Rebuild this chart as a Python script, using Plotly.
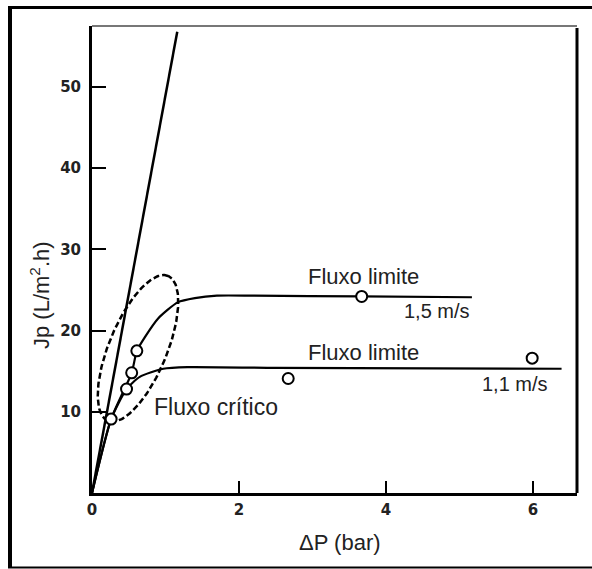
import numpy as np
import plotly.graph_objects as go

# ---- data ----
steep_x = [0.0, 1.16]
steep_y = [0.0, 56.8]

v15_x = [0, 0.26, 0.54, 0.61, 0.72, 0.90, 1.17, 1.40, 1.70, 2.20, 3.67, 5.17]
v15_y = [0, 9.1, 14.8, 17.5, 19.2, 21.5, 23.5, 24.0, 24.3, 24.3, 24.2, 24.1]

v11_x = [0, 0.26, 0.47, 0.65, 0.97, 1.30, 2.50, 6.39]
v11_y = [0, 9.1, 12.8, 14.3, 15.3, 15.5, 15.4, 15.3]

pts_x = [0.26, 0.47, 0.54, 0.61, 2.67, 3.67, 5.99]
pts_y = [9.1, 12.8, 14.8, 17.5, 14.1, 24.2, 16.6]

x_ticks = [0, 2, 4, 6]
y_ticks = [10, 20, 30, 40, 50]

X_RANGE = [0, 6.6]
Y_RANGE = [0, 57.5]

# ellipse ("Fluxo crítico" zone), centre in data units, axes in screen px
ell_cx, ell_cy = 0.626, 17.8
ell_a_px, ell_b_px, ell_deg = 78.5, 29.0, 67.5

W, H = 592, 569
ML, MR, MT, MB = 92, 15, 26, 76
pw, ph = W - ML - MR, H - MT - MB
px_per_x = pw / (X_RANGE[1] - X_RANGE[0])
px_per_y = ph / (Y_RANGE[1] - Y_RANGE[0])

t = np.linspace(0, 2 * np.pi, 200)
th = np.deg2rad(ell_deg)
ex_px = ell_a_px * np.cos(t) * np.cos(th) - ell_b_px * np.sin(t) * np.sin(th)
ey_px = ell_a_px * np.cos(t) * np.sin(th) + ell_b_px * np.sin(t) * np.cos(th)
ell_x = ell_cx + ex_px / px_per_x
ell_y = ell_cy + ey_px / px_per_y

fig = go.Figure()
fig.add_trace(go.Scatter(x=ell_x, y=ell_y, mode="lines",
                         line=dict(color="black", width=2.5, dash="6px,3px"),
                         hoverinfo="skip", showlegend=False))
fig.add_trace(go.Scatter(x=steep_x, y=steep_y, mode="lines",
                         line=dict(color="black", width=2.5), showlegend=False))
fig.add_trace(go.Scatter(x=v15_x, y=v15_y, mode="lines",
                         line=dict(color="black", width=2.2, shape="spline", smoothing=0.6),
                         showlegend=False))
fig.add_trace(go.Scatter(x=v11_x, y=v11_y, mode="lines",
                         line=dict(color="black", width=2.2, shape="spline", smoothing=0.6),
                         showlegend=False))
fig.add_trace(go.Scatter(x=pts_x, y=pts_y, mode="markers",
                         marker=dict(symbol="circle", size=11, color="white",
                                     line=dict(color="black", width=2)),
                         showlegend=False))

tick_font = dict(family="DejaVu Sans", size=15, color="#222", weight="bold")
fig.update_xaxes(range=X_RANGE, tickvals=x_ticks, ticktext=[str(v) for v in x_ticks],
                 ticks="inside", ticklen=12, tickwidth=2, tickcolor="black",
                 showline=True, linecolor="black", linewidth=3, showgrid=False,
                 zeroline=False, tickfont=tick_font, ticklabelstandoff=1)
fig.update_yaxes(range=Y_RANGE, tickvals=y_ticks, ticktext=[str(v) for v in y_ticks],
                 ticks="inside", ticklen=14, tickwidth=2, tickcolor="black",
                 showline=True, linecolor="black", linewidth=3, showgrid=False,
                 zeroline=False, tickfont=tick_font, ticklabelstandoff=5)

txt = dict(family="Liberation Sans, Arial, sans-serif", color="#222")
ann = [
    dict(x=3.69, y=26.6, text="Fluxo limite", font=dict(size=22, **txt)),
    dict(x=4.69, y=22.4, text="1,5 m/s", font=dict(size=20, **txt)),
    dict(x=3.69, y=17.35, text="Fluxo limite", font=dict(size=22, **txt)),
    dict(x=5.755, y=13.36, text="1,1 m/s", font=dict(size=20, **txt)),
    dict(x=1.694, y=10.58, text="Fluxo crítico", font=dict(size=23, **txt)),
]
annotations = [dict(xref="x", yref="y", showarrow=False, xanchor="center",
                    yanchor="middle", **a) for a in ann]
annotations.append(dict(xref="paper", yref="paper", x=(340 - ML) / pw, y=(H - MB - 542) / ph,
                        text="ΔP (bar)", showarrow=False, xanchor="center", yanchor="middle",
                        font=dict(size=22, **txt)))
annotations.append(dict(xref="paper", yref="paper", x=(40 - ML) / pw, y=(H - MB - 295) / ph,
                        text="Jp (L/m<sup>2</sup>.h)", textangle=-90, showarrow=False,
                        xanchor="center", yanchor="middle", font=dict(size=22, **txt)))

def px2paper_x(p):
    return (p - ML) / pw

def px2paper_y(p):
    return (H - MB - p) / ph

shapes = [
    # plot box: right (black) and top (grey)
    dict(type="line", xref="paper", yref="paper", x0=1, x1=1, y0=0, y1=px2paper_y(28),
         line=dict(color="black", width=3)),
    dict(type="line", xref="paper", yref="paper", x0=0, x1=1, y0=1, y1=1,
         line=dict(color="#777", width=2)),
    # outer frame
    dict(type="line", xref="paper", yref="paper", x0=px2paper_x(10), x1=px2paper_x(10),
         y0=px2paper_y(567.5), y1=px2paper_y(6), line=dict(color="black", width=4)),
    dict(type="line", xref="paper", yref="paper", x0=px2paper_x(8), x1=px2paper_x(600),
         y0=px2paper_y(7.5), y1=px2paper_y(7.5), line=dict(color="black", width=3)),
    dict(type="line", xref="paper", yref="paper", x0=px2paper_x(8), x1=px2paper_x(600),
         y0=px2paper_y(567.5), y1=px2paper_y(567.5), line=dict(color="black", width=2)),
]

fig.update_layout(width=W, height=H, margin=dict(l=ML, r=MR, t=MT, b=MB),
                  paper_bgcolor="white", plot_bgcolor="white",
                  annotations=annotations, shapes=shapes, showlegend=False)

fig.write_html("out.html")
